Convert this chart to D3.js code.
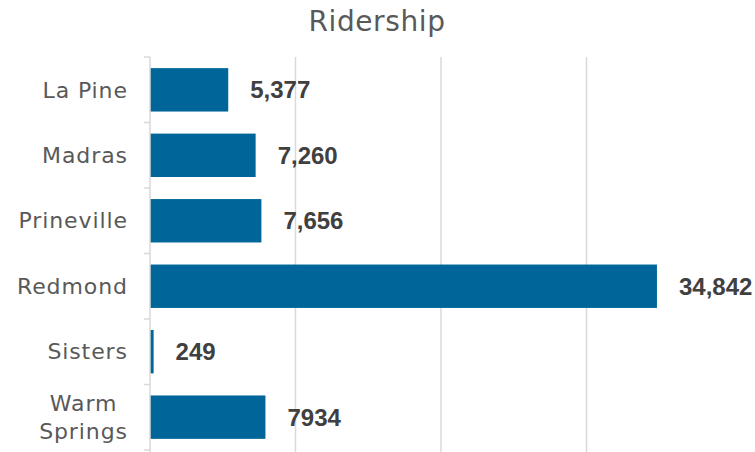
<!DOCTYPE html>
<html>
<head>
<meta charset="utf-8">
<script src="https://cdn.jsdelivr.net/npm/d3@7"></script>
<style>
  html, body { margin: 0; padding: 0; background: #fff; }
  svg { display: block; }
</style>
</head>
<body>
<svg id="chart" width="755" height="452"></svg>
<script>
// Ridership by community
const categories = ["La Pine", "Madras", "Prineville", "Redmond", "Sisters", "Warm Springs"];
const riders = [5377, 7260, 7656, 34842, 249, 7934];
const valueLabels = ["5,377", "7,260", "7,656", "34,842", "249", "7934"];
const gridTicks = [10000, 20000, 30000];

const svg = d3.select("#chart");
const margin = { top: 57, left: 150 };
const plotW = 582, plotH = 393;

const x = d3.scaleLinear().domain([0, 40000]).range([margin.left, margin.left + plotW]);
const y = d3.scaleBand().domain(categories).range([margin.top, margin.top + plotH]).paddingInner(0.337).paddingOuter(0.17);

const labelFont = "DejaVu Sans, sans-serif";
const labelSize = 22;
const labelSpacing = 0.9;

// title
svg.append("text")
  .attr("x", 377).attr("y", 31)
  .attr("text-anchor", "middle")
  .attr("font-family", labelFont)
  .attr("font-size", 28)
  .attr("letter-spacing", 0.6)
  .attr("fill", "#595959")
  .text("Ridership");

// vertical gridlines
svg.append("g")
  .selectAll("line")
  .data(gridTicks)
  .join("line")
  .attr("x1", d => x(d)).attr("x2", d => x(d))
  .attr("y1", margin.top).attr("y2", margin.top + plotH + 4)
  .attr("stroke", "#d9d9d9").attr("stroke-width", 1.5);

// bars
svg.append("g")
  .selectAll("rect")
  .data(categories)
  .join("rect")
  .attr("x", x(0))
  .attr("y", d => y(d))
  .attr("width", (d, i) => x(riders[i]) - x(0))
  .attr("height", y.bandwidth())
  .attr("fill", "#006699");

// category axis with tick marks between bands
const axisG = svg.append("g");
axisG.append("line")
  .attr("x1", x(0)).attr("x2", x(0))
  .attr("y1", margin.top).attr("y2", margin.top + plotH + 4)
  .attr("stroke", "#d9d9d9").attr("stroke-width", 1.5);
const bounds = d3.range(categories.length + 1).map(i => margin.top + i * (plotH / categories.length));
axisG.selectAll("line.tick")
  .data(bounds)
  .join("line")
  .attr("class", "tick")
  .attr("x1", x(0) - 6).attr("x2", x(0))
  .attr("y1", d => d).attr("y2", d => d)
  .attr("stroke", "#d9d9d9").attr("stroke-width", 1.5);

// category labels, long names wrapped onto two centered lines
const labelRight = 127 + labelSpacing;
categories.forEach(c => {
  const words = c.split(" ");
  const cy = y(c) + y.bandwidth() / 2;
  if (c === "Warm Springs") {
    const t = svg.append("text")
      .attr("font-family", labelFont)
      .attr("font-size", labelSize)
      .attr("letter-spacing", labelSpacing)
      .attr("fill", "#595959")
      .attr("text-anchor", "middle");
    const l1 = t.append("tspan").text(words[0]);
    const l2 = t.append("tspan").text(words[1]);
    const w = Math.max(l1.node().getComputedTextLength(), l2.node().getComputedTextLength());
    const cx = labelRight - w / 2;
    l1.attr("x", cx).attr("y", cy - 14 + 7.8);
    l2.attr("x", cx).attr("y", cy + 14 + 7.8);
  } else {
    svg.append("text")
      .attr("x", labelRight).attr("y", cy)
      .attr("dy", "0.35em")
      .attr("text-anchor", "end")
      .attr("font-family", labelFont)
      .attr("font-size", labelSize)
      .attr("letter-spacing", labelSpacing)
      .attr("fill", "#595959")
      .text(c);
  }
});

// value labels
svg.append("g")
  .selectAll("text")
  .data(categories)
  .join("text")
  .attr("x", (d, i) => x(riders[i]) + 22)
  .attr("y", d => y(d) + y.bandwidth() / 2)
  .attr("dy", "0.36em")
  .attr("font-family", "Liberation Sans, Arial, sans-serif")
  .attr("font-weight", "bold")
  .attr("font-size", 24)
  .attr("fill", "#404040")
  .text((d, i) => valueLabels[i]);
</script>
</body>
</html>
